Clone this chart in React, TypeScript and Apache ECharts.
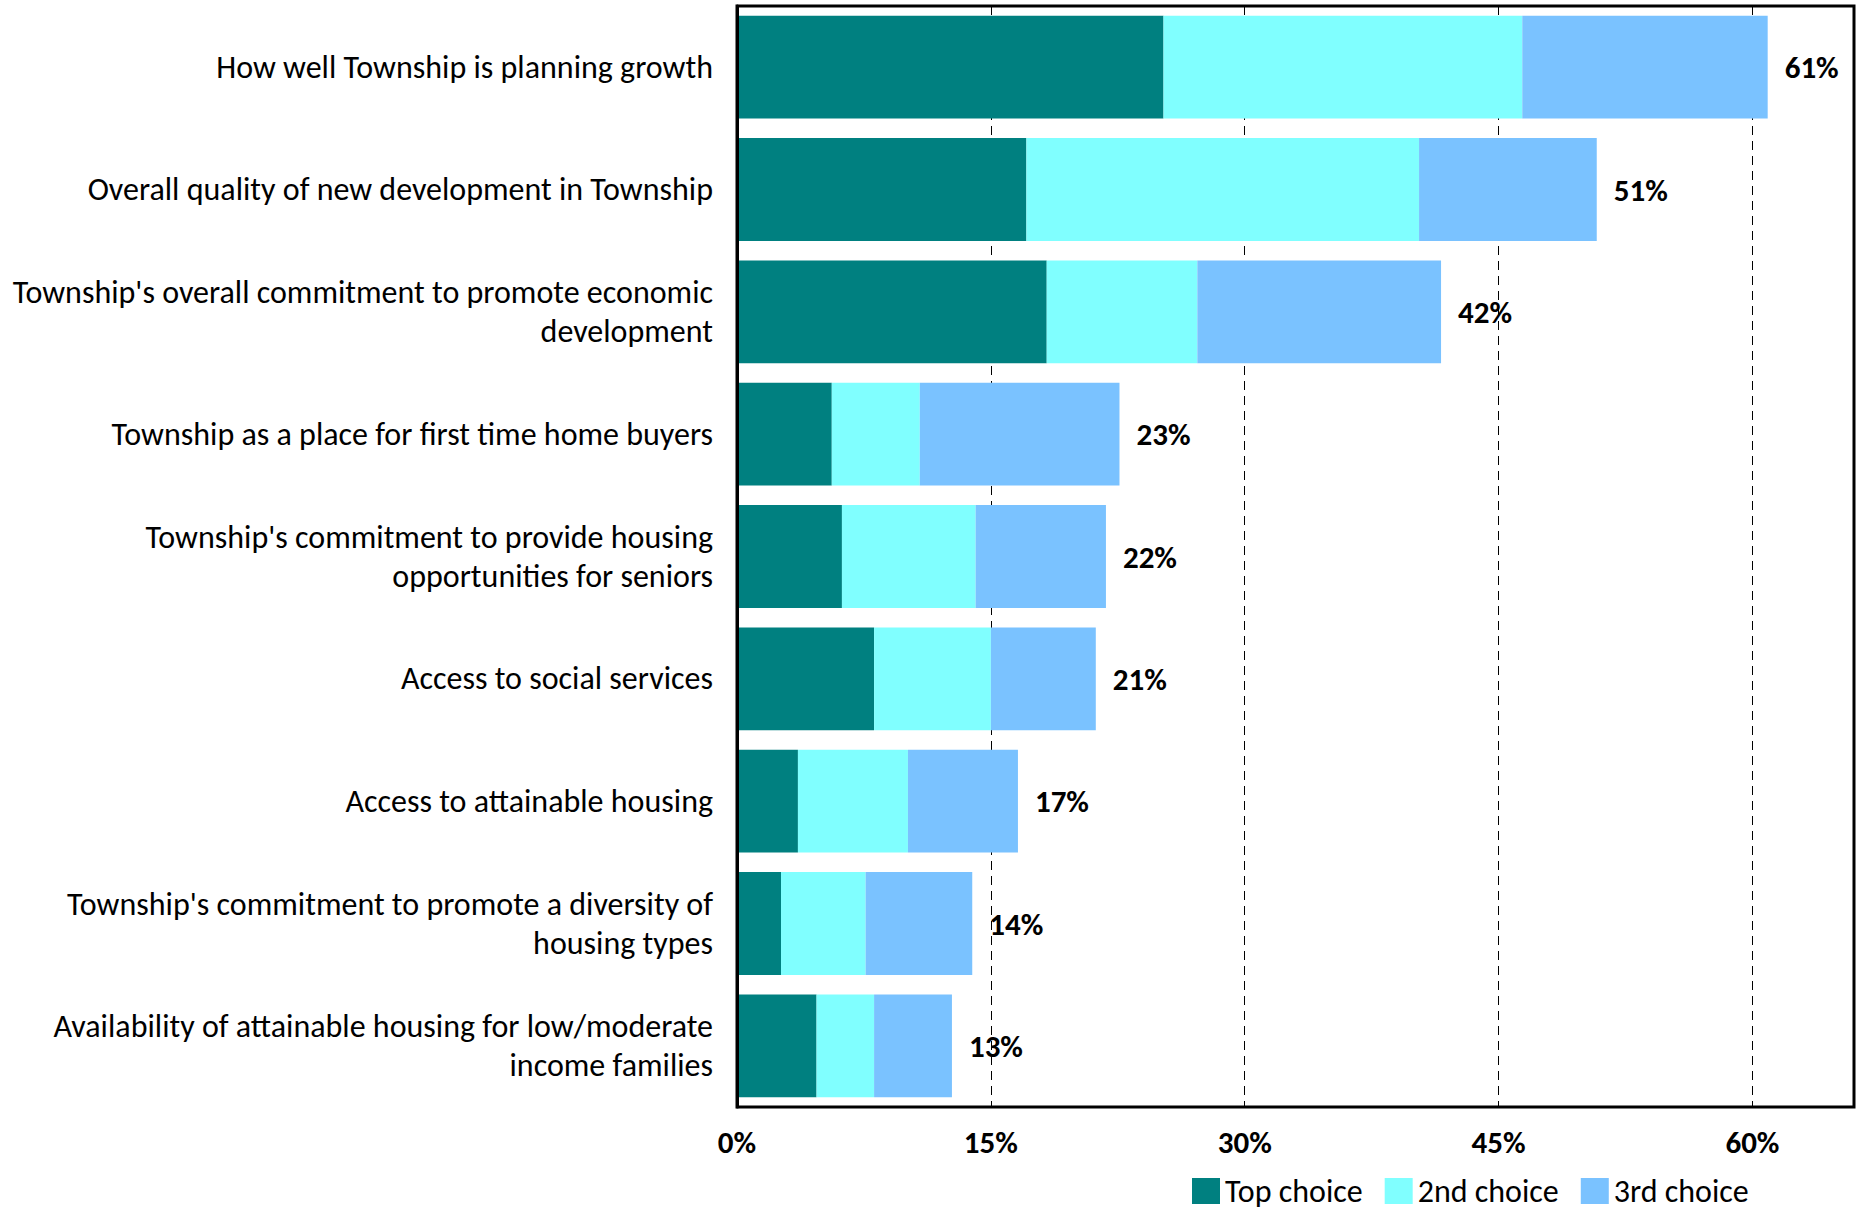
import React, { useEffect, useRef } from "react";
import * as echarts from "echarts";

const categories = [
  "How well Township is planning growth",
  "Overall quality of new development in Township",
  "Township's overall commitment to promote economic\ndevelopment",
  "Township as a place for first time home buyers",
  "Township's commitment to provide housing\nopportunities for seniors",
  "Access to social services",
  "Access to attainable housing",
  "Township's commitment to promote a diversity of\nhousing types",
  "Availability of attainable housing for low/moderate\nincome families",
];

const topChoice = [25.2, 17.1, 18.3, 5.6, 6.2, 8.1, 3.6, 2.6, 4.7];
const secondChoice = [21.2, 23.2, 8.9, 5.2, 7.9, 6.9, 6.5, 5.0, 3.4];
const thirdChoice = [14.5, 10.5, 14.4, 11.8, 7.7, 6.2, 6.5, 6.3, 4.6];
const totals = [61, 51, 42, 23, 22, 21, 17, 14, 13];

const seriesNames = ["Top choice", "2nd choice", "3rd choice"];
const colors = ["#008080", "#80FFFF", "#7AC2FF"];
const xTicks = [0, 15, 30, 45, 60];

const FONT = "Carlito, Lato, 'Open Sans', sans-serif";

export default function App() {
  const ref = useRef<HTMLDivElement>(null);
  useEffect(() => {
    if (!ref.current) return;
    const chart = echarts.init(ref.current, undefined, { renderer: "svg" });
    const values = [topChoice, secondChoice, thirdChoice];
    chart.setOption({
      animation: false,
      backgroundColor: "#fff",
      textStyle: { fontFamily: FONT },
      grid: {
        left: 737,
        right: 6,
        top: 6,
        bottom: 107,
        show: true,
        borderColor: "#000",
        borderWidth: 3,
        backgroundColor: "transparent",
      },
      legend: {
        left: 1187,
        top: 1170,
        itemWidth: 28,
        itemHeight: 26,
        itemGap: 22,
        icon: "rect",
        textStyle: { fontFamily: FONT, fontSize: 32, lineHeight: 32, color: "#000" },
        data: seriesNames,
      },
      xAxis: {
        type: "value",
        min: 0,
        max: 66,
        interval: 15,
        axisLine: { show: false },
        axisTick: { show: false },
        splitLine: {
          show: true,
          lineStyle: { color: "#000", width: 1, type: [9, 6] },
        },
        axisLabel: {
          margin: 19,
          fontFamily: FONT,
          fontSize: 31,
          fontWeight: "bold",
          color: "#000",
          showMaxLabel: false,
          formatter: (v: number) => (xTicks.includes(v) ? v + "%" : ""),
        },
      },
      yAxis: {
        type: "category",
        inverse: true,
        data: categories,
        z: 10,
        axisLine: { show: true, lineStyle: { color: "#000", width: 3 } },
        axisTick: { show: false },
        splitLine: { show: false },
        axisLabel: {
          margin: 24,
          fontFamily: FONT,
          fontSize: 32,
          lineHeight: 39,
          color: "#000",
          align: "right",
        },
      },
      series: seriesNames.map((name, i) => ({
        name,
        type: "bar",
        stack: "total",
        barCategoryGap: "16%",
        data: values[i],
        itemStyle: { color: colors[i] },
        label:
          i === 2
            ? {
                show: true,
                position: "right",
                distance: 17,
                fontFamily: FONT,
                fontSize: 31,
                fontWeight: "bold",
                color: "#000",
                formatter: (p: any) => totals[p.dataIndex] + "%",
              }
            : { show: false },
      })),
    });
    return () => chart.dispose();
  }, []);
  return (
    <div
      ref={ref}
      style={{ position: "fixed", left: 0, top: 0, width: 1860, height: 1214 }}
    />
  );
}
